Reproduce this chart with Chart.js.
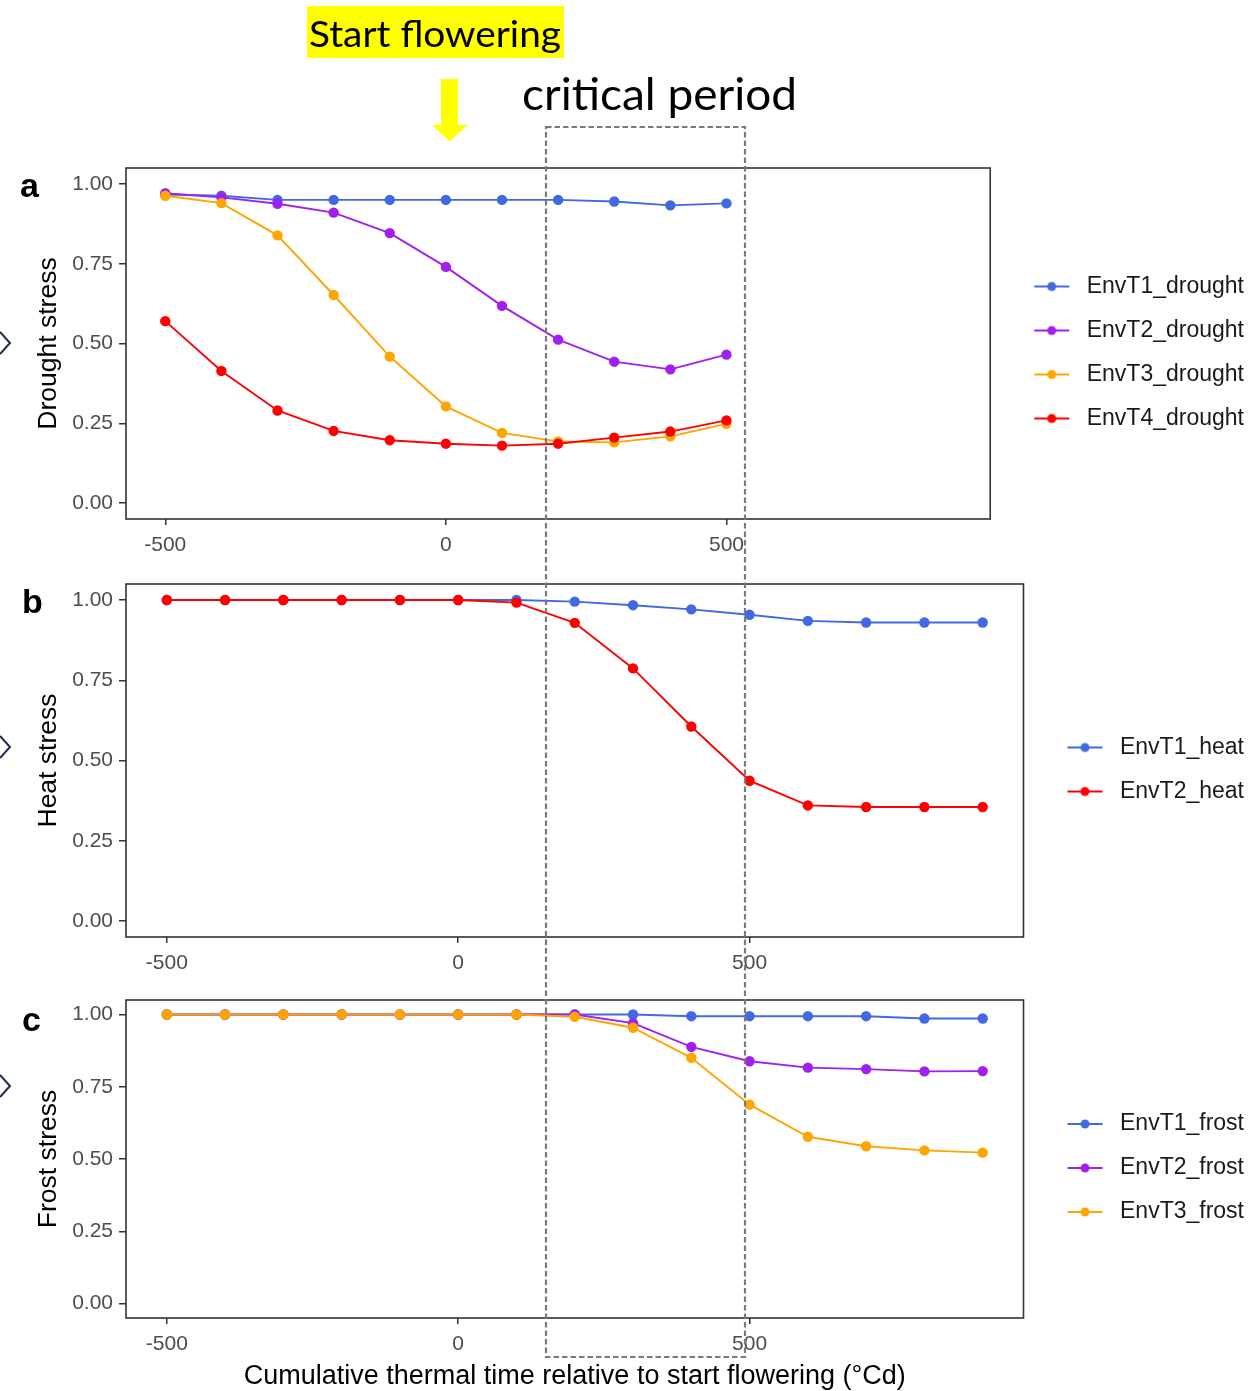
<!DOCTYPE html>
<html>
<head>
<meta charset="utf-8">
<title>Stress indices around flowering</title>
<script src="https://cdn.jsdelivr.net/npm/chart.js@4.4.1/dist/chart.umd.min.js"></script>
<style>
  html, body { margin: 0; padding: 0; background: #ffffff; }
  body { width: 1254px; height: 1391px; position: relative; overflow: hidden; }
  canvas { position: absolute; left: 0; }
  #overlay { position: absolute; left: 0; top: 0; pointer-events: none; }
</style>
</head>
<body>
<canvas id="droughtChart" width="1254" height="430" style="top:140px"></canvas>
<canvas id="heatChart" width="1254" height="430" style="top:556px"></canvas>
<canvas id="frostChart" width="1254" height="419" style="top:972px"></canvas>

<svg id="overlay" width="1254" height="1391" xmlns="http://www.w3.org/2000/svg">
  <rect x="307" y="6" width="257" height="52" fill="#FFFF00"/>
  <text x="309" y="47" font-family="Lato, 'Open Sans', sans-serif" font-size="37" textLength="252" lengthAdjust="spacingAndGlyphs" fill="#000">Start flowering</text>
  <polygon points="441,79 458,79 458,125 467.5,125 449.5,141.5 432,125 441,125" fill="#FFFF00"/>
  <text x="522" y="110" font-family="Lato, 'Open Sans', sans-serif" font-size="44" textLength="275" lengthAdjust="spacingAndGlyphs" fill="#000">critical period</text>
  <rect x="546" y="127" width="199" height="1230" fill="none" stroke="#7a7a7a" stroke-width="2.2" stroke-dasharray="5.5 3"/>
  <g font-family="'Liberation Sans', Arial, sans-serif" font-weight="bold" font-size="34" fill="#000">
    <text x="20" y="197">a</text>
    <text x="22" y="613">b</text>
    <text x="22" y="1031">c</text>
  </g>
  <g fill="none" stroke="#1F2D4D" stroke-width="2">
    <polyline points="0,332 10,343 0,354"/>
    <polyline points="0,736 10,747 0,758"/>
    <polyline points="0,1075 10,1086 0,1097"/>
  </g>
</svg>

<script>
// thermal time steps (°Cd relative to start of flowering)
const thermalTime = [-500, -400, -300, -200, -100, 0, 100, 200, 300, 400, 500];
const thermalTimeLong = [-500, -400, -300, -200, -100, 0, 100, 200, 300, 400, 500, 600, 700, 800, 900];

const stressTicks = [0, 0.25, 0.5, 0.75, 1];
const timeTicks = [-500, 0, 500];

// a: drought
const droughtT1 = [0.967, 0.963, 0.950, 0.950, 0.950, 0.950, 0.950, 0.950, 0.945, 0.933, 0.939];
const droughtT2 = [0.971, 0.958, 0.938, 0.910, 0.846, 0.740, 0.618, 0.512, 0.443, 0.419, 0.465];
const droughtT3 = [0.963, 0.940, 0.839, 0.652, 0.459, 0.303, 0.220, 0.193, 0.190, 0.209, 0.248];
const droughtT4 = [0.570, 0.414, 0.290, 0.226, 0.197, 0.186, 0.180, 0.186, 0.205, 0.224, 0.259];

// b: heat
const heatT1 = [1, 1, 1, 1, 1, 1, 1.000, 0.995, 0.984, 0.971, 0.954, 0.935, 0.930, 0.930, 0.930];
const heatT2 = [1, 1, 1, 1, 1, 1, 0.992, 0.929, 0.787, 0.606, 0.437, 0.360, 0.355, 0.355, 0.355];

// c: frost
const frostT1 = [1, 1, 1, 1, 1, 1, 1, 1.000, 1.000, 0.994, 0.994, 0.994, 0.994, 0.986, 0.986];
const frostT2 = [1, 1, 1, 1, 1, 1, 1, 1.000, 0.970, 0.888, 0.838, 0.816, 0.811, 0.803, 0.804];
const frostT3 = [1, 1, 1, 1, 1, 1, 1, 0.992, 0.954, 0.850, 0.688, 0.577, 0.544, 0.530, 0.522];

const BLUE = '#4169E1';
const PURPLE = '#A020F0';
const ORANGE = '#FFA500';
const RED = '#FF0000';

const FONT = "'Liberation Sans', Arial, sans-serif";

function series(xs, ys) {
  return xs.map((x, i) => ({ x: x, y: ys[i] }));
}

// legend key: a short line with a dot in the middle
function legendKey(colour) {
  const c = document.createElement('canvas');
  c.width = 80;
  c.height = 14;
  const g = c.getContext('2d');
  g.strokeStyle = colour;
  g.lineWidth = 2;
  g.beginPath();
  g.moveTo(31, 7);
  g.lineTo(66, 7);
  g.stroke();
  g.fillStyle = colour;
  g.beginPath();
  g.arc(48.5, 7, 4.5, 0, Math.PI * 2);
  g.fill();
  return c;
}

// closed frame round the plotting area
const panelBox = {
  id: 'panelBox',
  afterDraw(chart) {
    const { ctx, chartArea: a } = chart;
    ctx.save();
    ctx.strokeStyle = '#333333';
    ctx.lineWidth = 1.6;
    ctx.strokeRect(a.left, a.top, a.right - a.left, a.bottom - a.top);
    ctx.restore();
  }
};

function makeChart(id, sets, yTitle, xHeight, xTitle) {
  return new Chart(document.getElementById(id), {
    type: 'line',
    data: {
      datasets: sets.map((s, i) => ({
        label: s.label,
        data: series(s.x, s.y),
        borderColor: s.colour,
        backgroundColor: s.colour,
        borderWidth: 1.9,
        pointRadius: 5.2,
        pointHoverRadius: 5.2,
        pointBorderWidth: 0,
        tension: 0,
        order: sets.length - i
      }))
    },
    options: {
      responsive: false,
      animation: false,
      layout: { padding: { top: 28, right: 0, bottom: 0, left: 0 } },
      scales: {
        x: {
          type: 'linear',
          min: -570,
          max: 970,
          afterBuildTicks: sc => { sc.ticks = timeTicks.map(v => ({ value: v })); },
          afterFit: sc => { sc.height = xHeight; },
          border: { display: false },
          grid: { drawOnChartArea: false, drawTicks: true, tickLength: 6, color: '#333333', lineWidth: 1.5 },
          ticks: {
            color: '#4d4d4d',
            font: { family: FONT, size: 21 },
            padding: 8,
            maxRotation: 0,
            callback: v => String(v)
          },
          title: xTitle
            ? { display: true, text: xTitle, color: '#000', font: { family: FONT, size: 27, lineHeight: 1.05 }, padding: { top: 0, bottom: 0 } }
            : { display: false }
        },
        y: {
          min: -0.05,
          max: 1.05,
          afterBuildTicks: sc => { sc.ticks = stressTicks.map(v => ({ value: v })); },
          afterFit: sc => { sc.width = 126; },
          border: { display: false },
          grid: { drawOnChartArea: false, drawTicks: true, tickLength: 7, color: '#333333', lineWidth: 1.5 },
          ticks: {
            color: '#4d4d4d',
            font: { family: FONT, size: 21 },
            padding: 6,
            callback: v => v.toFixed(2)
          },
          title: { display: true, text: yTitle, color: '#000', font: { family: FONT, size: 26.5 }, padding: { top: 33, bottom: 0 } }
        }
      },
      plugins: {
        legend: {
          position: 'right',
          fullSize: false,
          title: { display: true, text: ' ', font: { size: 15 }, padding: 0 },
          labels: {
            usePointStyle: true,
            pointStyleWidth: 64,
            padding: 21,
            color: '#1a1a1a',
            font: { family: FONT, size: 23 },
            sort: (a, b) => a.datasetIndex - b.datasetIndex,
            generateLabels: chart => {
              const items = Chart.defaults.plugins.legend.labels.generateLabels(chart);
              items.forEach(it => { it.pointStyle = legendKey(chart.data.datasets[it.datasetIndex].borderColor); });
              return items;
            }
          }
        },
        tooltip: { enabled: false }
      }
    },
    plugins: [panelBox]
  });
}

makeChart('droughtChart', [
  { label: 'EnvT1_drought', x: thermalTime, y: droughtT1, colour: BLUE },
  { label: 'EnvT2_drought', x: thermalTime, y: droughtT2, colour: PURPLE },
  { label: 'EnvT3_drought', x: thermalTime, y: droughtT3, colour: ORANGE },
  { label: 'EnvT4_drought', x: thermalTime, y: droughtT4, colour: RED }
], 'Drought stress', 51, null);

makeChart('heatChart', [
  { label: 'EnvT1_heat', x: thermalTimeLong, y: heatT1, colour: BLUE },
  { label: 'EnvT2_heat', x: thermalTimeLong, y: heatT2, colour: RED }
], 'Heat stress', 49, null);

makeChart('frostChart', [
  { label: 'EnvT1_frost', x: thermalTimeLong, y: frostT1, colour: BLUE },
  { label: 'EnvT2_frost', x: thermalTimeLong, y: frostT2, colour: PURPLE },
  { label: 'EnvT3_frost', x: thermalTimeLong, y: frostT3, colour: ORANGE }
], 'Frost stress', 73, 'Cumulative thermal time relative to start flowering (°Cd)');
</script>
</body>
</html>
